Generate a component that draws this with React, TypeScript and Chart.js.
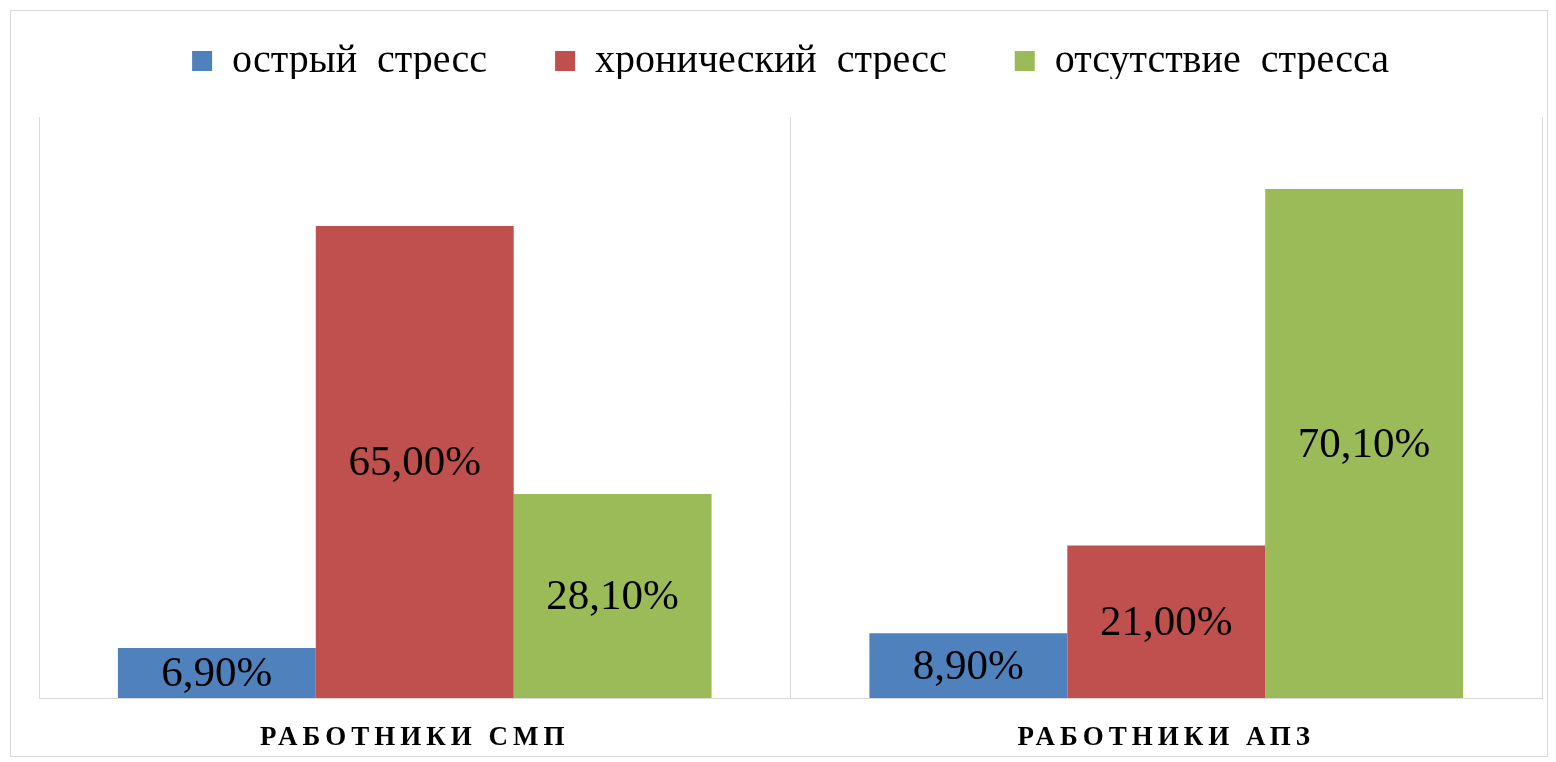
import React, { useEffect, useRef } from "react";
import { Chart, registerables } from "chart.js";

Chart.register(...registerables);

const categories = ["РАБОТНИКИ СМП", "РАБОТНИКИ АПЗ"];
const seriesNames = ["острый стресс", "хронический стресс", "отсутствие стресса"];
const acuteStress = [6.9, 8.9];
const chronicStress = [65.0, 21.0];
const noStress = [28.1, 70.1];
const seriesColors = ["#4F81BD", "#C0504D", "#9BBB59"];
const yMax = 80;

const CANVAS_W = 1536;
const CANVAS_H = 745;

const fmt = (v: number) => v.toFixed(2).replace(".", ",") + "%";

const layoutPlugin = {
  id: "layoutTweaks",
  beforeLayout(chart: any) {
    (chart.ctx as any).wordSpacing = "10px";
    const lg = chart.legend;
    if (lg && !lg.__patchedFit) {
      const origFit = lg.fit;
      lg.fit = function () {
        origFit.call(this);
        this.height -= 12;
      };
      lg.__patchedFit = true;
    }
  },
  afterLayout(chart: any) {
    (chart.ctx as any).wordSpacing = "0px";
    if (chart.legend) {
      chart.legend.top -= 38;
      chart.legend.bottom -= 38;
    }
  },
  beforeDraw(chart: any) {
    (chart.ctx as any).wordSpacing = "10px";
  },
  beforeDatasetsDraw(chart: any) {
    (chart.ctx as any).wordSpacing = "0px";
  },
  afterDatasetsDraw(chart: any) {
    const ctx = chart.ctx;
    ctx.save();
    ctx.font = '43px "Liberation Serif", "Times New Roman", serif';
    ctx.fillStyle = "#000";
    ctx.textAlign = "center";
    ctx.textBaseline = "middle";
    chart.data.datasets.forEach((ds: any, di: number) => {
      const meta = chart.getDatasetMeta(di);
      meta.data.forEach((el: any, i: number) => {
        const y = (el.y + el.base) / 2;
        ctx.fillText(fmt(ds.data[i]), el.x, y + 2);
      });
    });
    ctx.restore();
    // letter spacing for the category labels drawn in the following layer
    (ctx as any).letterSpacing = "5px";
  },
  afterDraw(chart: any) {
    (chart.ctx as any).letterSpacing = "0px";
    (chart.ctx as any).wordSpacing = "0px";
  },
};

export default function App() {
  const ref = useRef<HTMLCanvasElement | null>(null);
  useEffect(() => {
    if (!ref.current) return;
    const chart = new Chart(ref.current, {
      type: "bar",
      data: {
        labels: categories,
        datasets: [
          { label: seriesNames[0], data: acuteStress, backgroundColor: seriesColors[0] },
          { label: seriesNames[1], data: chronicStress, backgroundColor: seriesColors[1] },
          { label: seriesNames[2], data: noStress, backgroundColor: seriesColors[2] },
        ],
      },
      options: {
        responsive: false,
        animation: false,
        datasets: { bar: { categoryPercentage: 0.79, barPercentage: 1.0 } },
        layout: { padding: { left: 28, right: 5, top: 0, bottom: 6 } },
        plugins: {
          legend: {
            position: "top",
            labels: {
              boxWidth: 20,
              boxHeight: 20,
              padding: 68,
              color: "#000",
              font: { family: '"Liberation Serif", "Times New Roman", serif', size: 40 },
            },
          },
          tooltip: { enabled: false },
        },
        scales: {
          x: {
            offset: true,
            afterFit(scale: any) {
              scale.height = 52;
            },
            grid: { display: true, offset: true, color: "#d9d9d9", lineWidth: 1, drawTicks: false },
            border: { display: true, color: "#d9d9d9", width: 1 },
            ticks: {
              z: 1,
              padding: 24,
              color: "#000",
              maxRotation: 0,
              font: { family: '"Liberation Serif", "Times New Roman", serif', size: 27, weight: "bold" },
            },
          },
          y: {
            display: false,
            min: 0,
            max: yMax,
          },
        },
      },
      plugins: [layoutPlugin],
    });
    return () => chart.destroy();
  }, []);

  return (
    <div
      style={{
        marginLeft: 2,
        marginTop: 2,
        width: CANVAS_W,
        height: CANVAS_H,
        border: "1px solid #d9d9d9",
        background: "#fff",
      }}
    >
      <canvas ref={ref} width={CANVAS_W} height={CANVAS_H} style={{ display: "block" }} />
    </div>
  );
}
